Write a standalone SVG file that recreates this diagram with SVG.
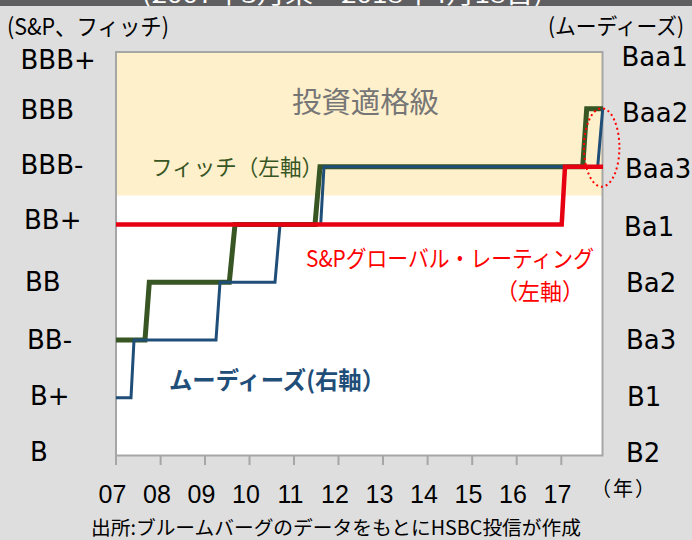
<svg xmlns="http://www.w3.org/2000/svg" width="692" height="540" viewBox="0 0 692 540">
<defs>
<style>
.lat{font-family:"DejaVu Sans","Liberation Sans",sans-serif;font-size:26px;fill:#000}
.yr{font-family:"Liberation Sans","DejaVu Sans",sans-serif;font-size:25px;fill:#000;text-anchor:middle}
.jp{font-family:"Noto Sans CJK JP","Noto Sans",sans-serif}
.tick{stroke:#a6a6a6;stroke-width:2}
.ser{fill:none;stroke-linejoin:miter;stroke-linecap:butt}
</style>
<clipPath id="band"><rect x="0" y="0" width="692" height="6"/></clipPath>
</defs>
<rect x="0" y="0" width="692" height="540" fill="#dedede"/>
<g id="title-band">
<rect x="0" y="0" width="692" height="6" fill="#5f5f62"/>
<text class="jp" x="142" y="3" font-size="22" fill="#ffffff" textLength="401" lengthAdjust="spacingAndGlyphs" clip-path="url(#band)">(2007年3月末～2018年4月18日)</text>
</g>
<g id="plot">
<rect x="116" y="52" width="486.5" height="403.5" fill="#ffffff"/>
<rect x="116" y="52" width="486.5" height="143.5" fill="#fff0cc"/>
<rect x="116" y="52" width="486.5" height="403.5" fill="none" stroke="#a6a6a6" stroke-width="2"/>
<g id="ticks">
<line class="tick" x1="116" y1="455" x2="116" y2="465"/>
<line class="tick" x1="160.6" y1="455" x2="160.6" y2="465"/>
<line class="tick" x1="205" y1="455" x2="205" y2="465"/>
<line class="tick" x1="249.5" y1="455" x2="249.5" y2="465"/>
<line class="tick" x1="294" y1="455" x2="294" y2="465"/>
<line class="tick" x1="338.5" y1="455" x2="338.5" y2="465"/>
<line class="tick" x1="383" y1="455" x2="383" y2="465"/>
<line class="tick" x1="427.6" y1="455" x2="427.6" y2="465"/>
<line class="tick" x1="472.2" y1="455" x2="472.2" y2="465"/>
<line class="tick" x1="516.7" y1="455" x2="516.7" y2="465"/>
<line class="tick" x1="561.3" y1="455" x2="561.3" y2="465"/>
</g>
</g>
<g id="zone-label">
<text class="jp" x="292" y="113" font-size="29" fill="#767676" textLength="147" lengthAdjust="spacingAndGlyphs">投資適格級</text>
</g>
<g id="connectors">
<path id="fitch" class="ser" stroke="#375623" stroke-width="5" d="M116,340 H145 L149.3,282.3 H229.3 L235,224.5 H315 L320,166.7 H582.7 L586.7,108.8 H603"/>
<path id="moodys" class="ser" stroke="#1f4e79" stroke-width="3" d="M116,397.8 H131 L134,340 H216 L220,282.3 H275 L280,224.5 H320.7 L324,166.7 H597.7 L602.7,108.8"/>
<path id="sp" class="ser" stroke="#e60012" stroke-width="4.5" d="M116,224.5 H561.7 L565,166.7 H603"/>
<ellipse id="highlight" cx="601.7" cy="147.5" rx="17.7" ry="39.2" fill="none" stroke="#ff0000" stroke-width="2" stroke-dasharray="2 3"/>
</g>
<g id="series-labels">
<text id="label-fitch" class="jp" x="151" y="175" font-size="22" fill="#375623" textLength="172" lengthAdjust="spacingAndGlyphs">フィッチ（左軸）</text>
<text id="label-sp1" class="jp" x="306" y="267" font-size="23" fill="#ff0000" textLength="288" lengthAdjust="spacingAndGlyphs">S&amp;Pグローバル・レーティング</text>
<text id="label-sp2" class="jp" x="496" y="300" font-size="23" fill="#ff0000" textLength="88" lengthAdjust="spacingAndGlyphs">（左軸）</text>
<text id="label-moodys" class="jp" x="169" y="389" font-size="24" font-weight="bold" fill="#1f4e79" textLength="216" lengthAdjust="spacingAndGlyphs">ムーディーズ(右軸）</text>
</g>
<g id="axis-left">
<text class="jp" x="7" y="35" font-size="23" fill="#000" textLength="162" lengthAdjust="spacingAndGlyphs">(S&amp;P、フィッチ)</text>
<text class="lat" x="20.5" y="69">BBB+</text>
<text class="lat" x="20.5" y="119">BBB</text>
<text class="lat" x="20.5" y="174">BBB-</text>
<text class="lat" x="24" y="229">BB+</text>
<text class="lat" x="25" y="291">BB</text>
<text class="lat" x="27" y="349">BB-</text>
<text class="lat" x="30" y="405">B+</text>
<text class="lat" x="30" y="461">B</text>
</g>
<g id="axis-right">
<text class="jp" x="548" y="34" font-size="22" fill="#000" textLength="136" lengthAdjust="spacingAndGlyphs">(ムーディーズ)</text>
<text class="lat" x="621.5" y="66">Baa1</text>
<text class="lat" x="622" y="121.5">Baa2</text>
<text class="lat" x="625" y="178">Baa3</text>
<text class="lat" x="624" y="236">Ba1</text>
<text class="lat" x="626" y="292">Ba2</text>
<text class="lat" x="626" y="349">Ba3</text>
<text class="lat" x="627" y="406">B1</text>
<text class="lat" x="626" y="462">B2</text>
</g>
<g id="axis-bottom">
<text class="yr" x="112.5" y="502.5">07</text>
<text class="yr" x="157" y="502.5">08</text>
<text class="yr" x="201.5" y="502.5">09</text>
<text class="yr" x="246" y="502.5">10</text>
<text class="yr" x="290.5" y="502.5">11</text>
<text class="yr" x="335" y="502.5">12</text>
<text class="yr" x="379.5" y="502.5">13</text>
<text class="yr" x="424" y="502.5">14</text>
<text class="yr" x="468.5" y="502.5">15</text>
<text class="yr" x="513" y="502.5">16</text>
<text class="yr" x="557.5" y="502.5">17</text>
<text class="jp" x="591" y="496" font-size="20" fill="#000" letter-spacing="2">（年）</text>
</g>
<g id="caption">
<text class="jp" x="91" y="534.5" font-size="19.5" fill="#000" textLength="490" lengthAdjust="spacingAndGlyphs">出所:ブルームバーグのデータをもとにHSBC投信が作成</text>
</g>
</svg>
